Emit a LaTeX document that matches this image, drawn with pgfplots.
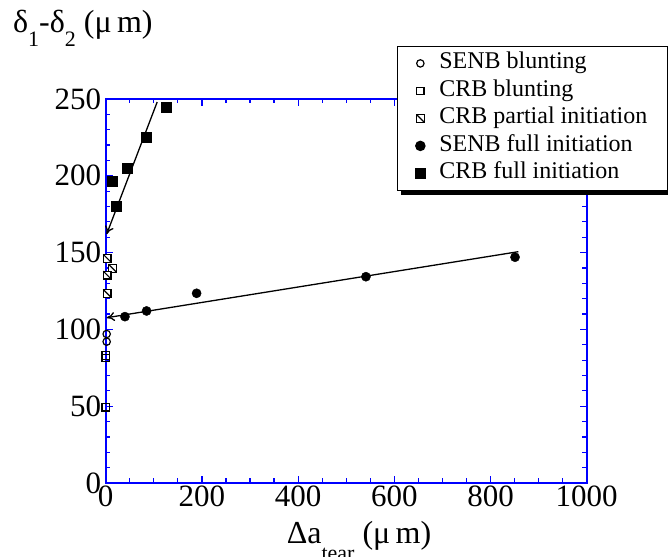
\documentclass[border=0pt]{standalone}
\usepackage{fontspec}
\setmainfont{Liberation Serif}
\usepackage{pgfplots}
\pgfplotsset{compat=1.18}
\usetikzlibrary{arrows.meta,shadows}

% square with a diagonal, for the partial initiation points
\pgfdeclareplotmark{hatchsq}{%
  \pgfpathrectangle{\pgfpoint{-\pgfplotmarksize}{-\pgfplotmarksize}}{\pgfpoint{2\pgfplotmarksize}{2\pgfplotmarksize}}%
  \pgfusepathqfillstroke
  \pgfpathmoveto{\pgfpoint{-\pgfplotmarksize}{\pgfplotmarksize}}%
  \pgfpathlineto{\pgfpoint{\pgfplotmarksize}{-\pgfplotmarksize}}%
  \pgfusepathqstroke
}

\begin{document}
\begin{tikzpicture}
\useasboundingbox (-105.7pt,-73pt) rectangle (562.3pt,483pt);
\begin{axis}[
  at={(0pt,0pt)}, anchor=south west,
  scale only axis, width=481pt, height=384pt,
  xmin=0, xmax=1000, ymin=0, ymax=250,
  xtick={0,200,...,1000}, ytick={0,50,...,250},
  minor x tick num=3, minor y tick num=4,
  tick align=inside, xtick pos=both, ytick pos=both,
  xticklabel pos=lower, yticklabel pos=left,
  axis line style={blue, line width=1.8pt},
  tick style={blue, line width=1.2pt},
  major tick length=7pt, minor tick length=4.5pt,
  tick label style={font=\fontsize{31}{31}\selectfont},
  xticklabel style={yshift=1pt},
  yticklabel style={xshift=-1pt},
  /pgf/number format/assume math mode=true,
  /pgf/number format/1000 sep={},
  clip=false,
  legend style={at={(0.605,1.138)}, anchor=north west,
    draw=black, line width=1.3pt, fill=white,
    font=\fontsize{24}{24}\selectfont,
    inner xsep=18pt, inner ysep=3pt, column sep=12pt,
    nodes={inner sep=2pt, text height=17pt, text depth=6.5pt},
    drop shadow={shadow xshift=4pt, shadow yshift=-5pt, fill=black, opacity=1}},
  legend image code/.code={%
    \draw[mark repeat=2, mark phase=2] plot coordinates {(0pt,0pt) (8pt,0pt) (16pt,0pt)};},
  legend cell align=left,
]
\addplot[only marks, mark=o, mark size=3.7pt, line width=1.2pt, black]
  coordinates {(2,97) (2,92)};
\addlegendentry{SENB blunting}
\addplot[only marks, mark=square, mark size=3.7pt, line width=1.2pt, black]
  coordinates {(0,81.5) (0,83) (0,49.3)};
\addlegendentry{CRB blunting}
\addplot[only marks, mark=hatchsq, mark size=3.9pt, line width=1.2pt, black, fill=white]
  coordinates {(3,146.3) (14,139.8) (3,135.4) (3,123.5)};
\addlegendentry{CRB partial initiation}
\addplot[only marks, mark=*, mark size=4.6pt, black]
  coordinates {(40,108.3) (85,112) (189,123.5) (541,134.3) (851,147)};
\addlegendentry{SENB full initiation}
\addplot[only marks, mark=square*, mark size=5pt, black]
  coordinates {(13,196.6) (21,180) (45,205) (85,225) (125,244.6)};
\addlegendentry{CRB full initiation}

% fit lines with arrows to the axis
\addplot[forget plot, black, line width=1.3pt, -{To[length=8pt,width=9pt]}]
  coordinates {(107,248) (2,162)};
\addplot[forget plot, black, line width=1.3pt, -{To[length=8pt,width=9pt]}]
  coordinates {(858,150.6) (2,107.6)};

\node[anchor=base west, font=\fontsize{32}{32}\selectfont, inner sep=0pt]
  at (rel axis cs:-0.193,1.172)
  {δ\raisebox{-14pt}{\fontsize{22}{22}\selectfont 1}-δ\raisebox{-14pt}{\fontsize{22}{22}\selectfont 2} (μ\,m)};
\node[anchor=base west, font=\fontsize{32}{32}\selectfont, inner sep=0pt]
  at (rel axis cs:0.376,-0.157)
  {Δa\raisebox{-17pt}{\fontsize{22}{22}\selectfont tear} (μ\,m)};
\end{axis}
\end{tikzpicture}
\end{document}
